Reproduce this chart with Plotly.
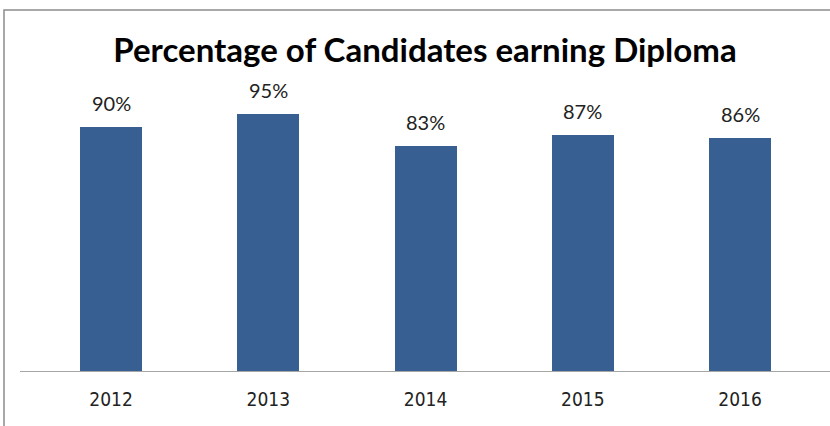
import plotly.graph_objects as go

years = ["2012", "2013", "2014", "2015", "2016"]
pct = [90, 95, 83, 87, 86]
labels = ["90%", "95%", "83%", "87%", "86%"]

BAR = "#375F91"
FONT = "Lato"
NARROW = "Liberation Sans Narrow, DejaVu Sans Condensed, Lato"

fig = go.Figure()
fig.add_trace(go.Bar(
    x=list(range(len(years))), y=pct, width=0.394,
    marker=dict(color=BAR, line=dict(width=0)),
    hoverinfo="skip",
))

for i, (v, lab) in enumerate(zip(pct, labels)):
    fig.add_annotation(x=i, y=v, text=lab, showarrow=False,
                       yanchor="bottom", yshift=10,
                       font=dict(family=FONT, size=20, color="#222222"))

W, H = 830, 426
fig.update_layout(
    width=W, height=H,
    margin=dict(l=20, r=0, t=100, b=55),
    paper_bgcolor="white", plot_bgcolor="white",
    showlegend=False,
    bargap=0,
    title=dict(text="<b>Percentage of Candidates earning Diploma</b>",
               x=425 / W, xanchor="center", y=1 - 50 / H, yanchor="middle",
               font=dict(family=FONT, size=33, color="#000000")),
    xaxis=dict(range=[-0.579, 4.572],
               tickmode="array", tickvals=list(range(len(years))), ticktext=years,
               showline=True, linecolor="#A6A6A6", linewidth=1,
               ticks="", showgrid=False, zeroline=False,
               ticklabelstandoff=11,
               tickfont=dict(family=NARROW, size=19, color="#222222")),
    yaxis=dict(range=[0, 100], visible=False, showgrid=False, zeroline=False),
    shapes=[dict(type="rect", xref="paper", yref="paper",
                 x0=-16 / 810, x1=1.1, y0=-0.3, y1=(371 - 10) / 271,
                 line=dict(color="#8C8C8C", width=1.5), layer="below")],
)

fig.write_html("out.html", config={"displayModeBar": False},
               post_script="document.body.style.margin='0';")
